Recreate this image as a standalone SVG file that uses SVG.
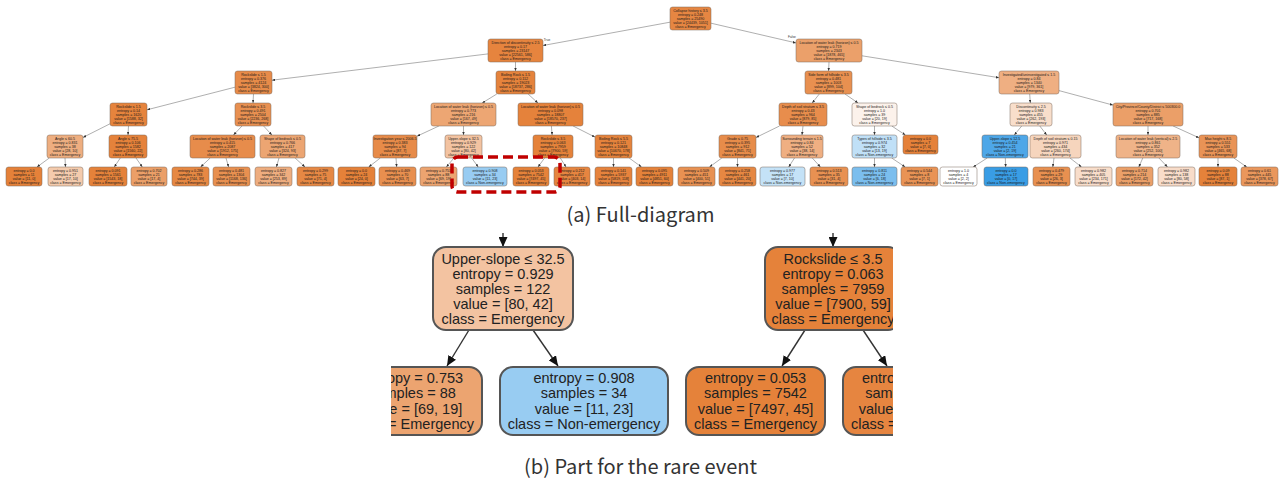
<svg xmlns="http://www.w3.org/2000/svg" width="1281" height="486" viewBox="0 0 1281 486">
<style>
.nd{stroke:#7a685c;stroke-width:0.5}
.t{font-family:"Liberation Sans",Arial,sans-serif;font-size:3.6px;fill:#1a1a1a;text-anchor:middle}
.e{stroke:#8c8c8c;stroke-width:0.7;fill:none;marker-end:url(#ah)}
.lbl{font-family:"Liberation Sans",Arial,sans-serif;font-size:3.2px;fill:#333;text-anchor:middle}
.pn{stroke:#555;stroke-width:2}
.pt{font-family:"Liberation Sans",Arial,sans-serif;font-size:14.5px;fill:#222;text-anchor:middle}
.pe{stroke:#333;stroke-width:1.4;fill:none;marker-end:url(#pa)}
.cap{font-family:"Noto Sans CJK KR","Noto Sans",sans-serif;font-size:20px;fill:#333;text-anchor:middle}
</style>
<defs>
<marker id="ah" markerUnits="userSpaceOnUse" markerWidth="3.2" markerHeight="2.6" refX="3.2" refY="1.3" orient="auto" viewBox="0 0 3.2 2.6"><path d="M0,0 L3.2,1.3 L0,2.6 Z" fill="#333"/></marker>
<marker id="pa" markerUnits="userSpaceOnUse" markerWidth="10" markerHeight="9" refX="10" refY="4.5" orient="auto" viewBox="0 0 10 9"><path d="M0,0 L10,4.5 L0,9 Z" fill="#111"/></marker>
<clipPath id="pc"><rect x="391" y="233" width="502" height="213"/></clipPath>
</defs>
<rect width="1281" height="486" fill="#fff"/>

<g id="connectors">
<line class="e" x1="670" y1="22.2" x2="543" y2="45.5"/>
<line class="e" x1="711" y1="23.2" x2="796" y2="42.9"/>
<line class="e" x1="488" y1="53.9" x2="272" y2="80.2"/>
<line class="e" x1="515.5" y1="62" x2="515.5" y2="71"/>
<line class="e" x1="829" y1="62" x2="828.6" y2="71"/>
<line class="e" x1="862" y1="55.8" x2="999" y2="77.7"/>
<line class="e" x1="235" y1="87.2" x2="147" y2="109.8"/>
<line class="e" x1="253.5" y1="94" x2="253" y2="103"/>
<line class="e" x1="496.8" y1="94" x2="482.2" y2="103"/>
<line class="e" x1="528.1" y1="94" x2="537.9" y2="103"/>
<line class="e" x1="819.3" y1="94" x2="812.2" y2="103"/>
<line class="e" x1="845" y1="94" x2="858" y2="103"/>
<line class="e" x1="1029.7" y1="94" x2="1030.3" y2="103"/>
<line class="e" x1="1059" y1="90.6" x2="1113" y2="105.1"/>
<line class="e" x1="110" y1="123.8" x2="83" y2="137.4"/>
<line class="e" x1="128.5" y1="126" x2="128" y2="135"/>
<line class="e" x1="242" y1="126" x2="233.5" y2="135"/>
<line class="e" x1="263.6" y1="126" x2="271.9" y2="135"/>
<line class="e" x1="438.9" y1="126" x2="417" y2="136.2"/>
<line class="e" x1="463.5" y1="126" x2="463.5" y2="135"/>
<line class="e" x1="551.4" y1="126" x2="552.1" y2="135"/>
<line class="e" x1="573.1" y1="126" x2="595" y2="137.1"/>
<line class="e" x1="779.5" y1="126" x2="756" y2="137.5"/>
<line class="e" x1="803" y1="126" x2="802" y2="135"/>
<line class="e" x1="874.5" y1="126" x2="874.5" y2="135"/>
<line class="e" x1="891.8" y1="126" x2="905.4" y2="135"/>
<line class="e" x1="1021.7" y1="126" x2="1014.3" y2="135"/>
<line class="e" x1="1039.8" y1="126" x2="1046.7" y2="135"/>
<line class="e" x1="1148" y1="126" x2="1148" y2="135"/>
<line class="e" x1="1173.1" y1="126" x2="1199" y2="137.8"/>
<line class="e" x1="49.3" y1="158" x2="37" y2="167"/>
<line class="e" x1="65" y1="158" x2="65.5" y2="167"/>
<line class="e" x1="120.3" y1="158" x2="114.3" y2="167"/>
<line class="e" x1="136" y1="158" x2="142.3" y2="167"/>
<line class="e" x1="210.2" y1="158" x2="200.6" y2="167"/>
<line class="e" x1="226" y1="158" x2="228.6" y2="167"/>
<line class="e" x1="279" y1="158" x2="276.4" y2="167"/>
<line class="e" x1="295.1" y1="158" x2="305" y2="167"/>
<line class="e" x1="380.3" y1="158" x2="368.7" y2="167"/>
<line class="e" x1="396" y1="158" x2="396.7" y2="167"/>
<line class="e" x1="453.9" y1="158" x2="446.4" y2="167"/>
<line class="e" x1="471.7" y1="158" x2="478.2" y2="167"/>
<line class="e" x1="544.6" y1="158" x2="538" y2="167"/>
<line class="e" x1="560.3" y1="158" x2="566" y2="167"/>
<line class="e" x1="613.5" y1="158" x2="613.5" y2="167"/>
<line class="e" x1="629.2" y1="158" x2="641.5" y2="167"/>
<line class="e" x1="721.8" y1="158" x2="709.5" y2="167"/>
<line class="e" x1="737.5" y1="158" x2="737.5" y2="167"/>
<line class="e" x1="794.5" y1="158" x2="788.7" y2="167"/>
<line class="e" x1="812.3" y1="158" x2="820.4" y2="167"/>
<line class="e" x1="874.5" y1="158" x2="874.5" y2="167"/>
<line class="e" x1="891.7" y1="158" x2="905.2" y2="167"/>
<line class="e" x1="987.2" y1="158" x2="973.2" y2="167"/>
<line class="e" x1="1005.3" y1="158" x2="1005.7" y2="167"/>
<line class="e" x1="1054" y1="158" x2="1052.8" y2="167"/>
<line class="e" x1="1070" y1="158" x2="1081.5" y2="167"/>
<line class="e" x1="1142.8" y1="158" x2="1138.8" y2="167"/>
<line class="e" x1="1158.9" y1="158" x2="1167.5" y2="167"/>
<line class="e" x1="1218" y1="158" x2="1218" y2="167"/>
<line class="e" x1="1233.9" y1="158" x2="1246.7" y2="167"/>
<text class="lbl" x="547" y="41">True</text>
<text class="lbl" x="792" y="38">False</text>
</g>

<g id="n0"><rect class="nd" x="670" y="7" width="41" height="23" rx="2.5" fill="#e68642"/><text class="t" y="11.5"><tspan x="690.5">Collapse history ≤ 3.5</tspan><tspan x="690.5" dy="4.15">entropy = 0.248</tspan><tspan x="690.5" dy="4.15">samples = 25490</tspan><tspan x="690.5" dy="4.15">value = [24439, 1051]</tspan><tspan x="690.5" dy="4.15">class = Emergency</tspan></text></g>
<g id="n1"><rect class="nd" x="488" y="39" width="55" height="23" rx="2.5" fill="#e6843e"/><text class="t" y="43.5"><tspan x="515.5">Direction of discontinuity ≤ 2.5</tspan><tspan x="515.5" dy="4.15">entropy = 0.17</tspan><tspan x="515.5" dy="4.15">samples = 23147</tspan><tspan x="515.5" dy="4.15">value = [22561, 586]</tspan><tspan x="515.5" dy="4.15">class = Emergency</tspan></text></g>
<g id="n2"><rect class="nd" x="796" y="39" width="66" height="23" rx="2.5" fill="#eba06a"/><text class="t" y="43.5"><tspan x="829">Location of water leak (horizon) ≤ 0.5</tspan><tspan x="829" dy="4.15">entropy = 0.719</tspan><tspan x="829" dy="4.15">samples = 2343</tspan><tspan x="829" dy="4.15">value = [1878, 465]</tspan><tspan x="829" dy="4.15">class = Emergency</tspan></text></g>
<g id="n3"><rect class="nd" x="235" y="71" width="37" height="23" rx="2.5" fill="#e78b49"/><text class="t" y="75.5"><tspan x="253.5">Rockslide ≤ 1.5</tspan><tspan x="253.5" dy="4.15">entropy = 0.376</tspan><tspan x="253.5" dy="4.15">samples = 4124</tspan><tspan x="253.5" dy="4.15">value = [3824, 300]</tspan><tspan x="253.5" dy="4.15">class = Emergency</tspan></text></g>
<g id="n4"><rect class="nd" x="496" y="71" width="39" height="23" rx="2.5" fill="#e5833c"/><text class="t" y="75.5"><tspan x="515.5">Boiling Rock ≤ 1.5</tspan><tspan x="515.5" dy="4.15">entropy = 0.112</tspan><tspan x="515.5" dy="4.15">samples = 19023</tspan><tspan x="515.5" dy="4.15">value = [18737, 286]</tspan><tspan x="515.5" dy="4.15">class = Emergency</tspan></text></g>
<g id="n5"><rect class="nd" x="805" y="71" width="47" height="23" rx="2.5" fill="#e89050"/><text class="t" y="75.5"><tspan x="828.5">Side form of hillside ≤ 3.5</tspan><tspan x="828.5" dy="4.15">entropy = 0.481</tspan><tspan x="828.5" dy="4.15">samples = 1003</tspan><tspan x="828.5" dy="4.15">value = [899, 104]</tspan><tspan x="828.5" dy="4.15">class = Emergency</tspan></text></g>
<g id="n6"><rect class="nd" x="999" y="71" width="60" height="23" rx="2.5" fill="#efaf82"/><text class="t" y="75.5"><tspan x="1029">Investigated/uninvestigated ≤ 1.5</tspan><tspan x="1029" dy="4.15">entropy = 0.84</tspan><tspan x="1029" dy="4.15">samples = 1340</tspan><tspan x="1029" dy="4.15">value = [979, 361]</tspan><tspan x="1029" dy="4.15">class = Emergency</tspan></text></g>

<g id="n7"><rect class="nd" x="110" y="103" width="37" height="23" rx="2.5" fill="#e6843d"/><text class="t" y="107.5"><tspan x="128.5">Rockslide ≤ 1.5</tspan><tspan x="128.5" dy="4.15">entropy = 0.14</tspan><tspan x="128.5" dy="4.15">samples = 1620</tspan><tspan x="128.5" dy="4.15">value = [1588, 32]</tspan><tspan x="128.5" dy="4.15">class = Emergency</tspan></text></g>
<g id="n8"><rect class="nd" x="235" y="103" width="36" height="23" rx="2.5" fill="#e89051"/><text class="t" y="107.5"><tspan x="253">Rockslide ≤ 3.5</tspan><tspan x="253" dy="4.15">entropy = 0.491</tspan><tspan x="253" dy="4.15">samples = 2504</tspan><tspan x="253" dy="4.15">value = [2236, 268]</tspan><tspan x="253" dy="4.15">class = Emergency</tspan></text></g>
<g id="n9"><rect class="nd" x="431" y="103" width="65" height="23" rx="2.5" fill="#eda673"/><text class="t" y="107.5"><tspan x="463.5">Location of water leak (horizon) ≤ 0.5</tspan><tspan x="463.5" dy="4.15">entropy = 0.773</tspan><tspan x="463.5" dy="4.15">samples = 216</tspan><tspan x="463.5" dy="4.15">value = [167, 49]</tspan><tspan x="463.5" dy="4.15">class = Emergency</tspan></text></g>
<g id="n10"><rect class="nd" x="518" y="103" width="65" height="23" rx="2.5" fill="#e5823b"/><text class="t" y="107.5"><tspan x="550.5">Location of water leak (horizon) ≤ 0.5</tspan><tspan x="550.5" dy="4.15">entropy = 0.098</tspan><tspan x="550.5" dy="4.15">samples = 18807</tspan><tspan x="550.5" dy="4.15">value = [18570, 237]</tspan><tspan x="550.5" dy="4.15">class = Emergency</tspan></text></g>
<g id="n11"><rect class="nd" x="779" y="103" width="48" height="23" rx="2.5" fill="#e88d4c"/><text class="t" y="107.5"><tspan x="803">Depth of soil stratum ≤ 3.5</tspan><tspan x="803" dy="4.15">entropy = 0.43</tspan><tspan x="803" dy="4.15">samples = 964</tspan><tspan x="803" dy="4.15">value = [879, 85]</tspan><tspan x="803" dy="4.15">class = Emergency</tspan></text></g>
<g id="n12"><rect class="nd" x="852" y="103" width="45" height="23" rx="2.5" fill="#fcf2eb"/><text class="t" y="107.5"><tspan x="874.5">Shape of bedrock ≤ 0.5</tspan><tspan x="874.5" dy="4.15">entropy = 1.0</tspan><tspan x="874.5" dy="4.15">samples = 39</tspan><tspan x="874.5" dy="4.15">value = [20, 19]</tspan><tspan x="874.5" dy="4.15">class = Emergency</tspan></text></g>
<g id="n13"><rect class="nd" x="1010" y="103" width="42" height="23" rx="2.5" fill="#f8decb"/><text class="t" y="107.5"><tspan x="1031">Discontinuity ≤ 2.5</tspan><tspan x="1031" dy="4.15">entropy = 0.983</tspan><tspan x="1031" dy="4.15">samples = 455</tspan><tspan x="1031" dy="4.15">value = [262, 193]</tspan><tspan x="1031" dy="4.15">class = Emergency</tspan></text></g>
<g id="n14"><rect class="nd" x="1113" y="103" width="70" height="23" rx="2.5" fill="#eb9f68"/><text class="t" y="107.5"><tspan x="1148">City/Province/County/District ≤ 500300.0</tspan><tspan x="1148" dy="4.15">entropy = 0.701</tspan><tspan x="1148" dy="4.15">samples = 885</tspan><tspan x="1148" dy="4.15">value = [717, 168]</tspan><tspan x="1148" dy="4.15">class = Emergency</tspan></text></g>

<g id="n15"><rect class="nd" x="47" y="135" width="36" height="23" rx="2.5" fill="#eeae80"/><text class="t" y="139.5"><tspan x="65">Angle ≤ 60.5</tspan><tspan x="65" dy="4.15">entropy = 0.831</tspan><tspan x="65" dy="4.15">samples = 38</tspan><tspan x="65" dy="4.15">value = [28, 10]</tspan><tspan x="65" dy="4.15">class = Emergency</tspan></text></g>
<g id="n16"><rect class="nd" x="109" y="135" width="38" height="23" rx="2.5" fill="#e5823b"/><text class="t" y="139.5"><tspan x="128">Angle ≤ 75.5</tspan><tspan x="128" dy="4.15">entropy = 0.106</tspan><tspan x="128" dy="4.15">samples = 1582</tspan><tspan x="128" dy="4.15">value = [1560, 22]</tspan><tspan x="128" dy="4.15">class = Emergency</tspan></text></g>
<g id="n17"><rect class="nd" x="190" y="135" width="65" height="23" rx="2.5" fill="#e78c4b"/><text class="t" y="139.5"><tspan x="222.5">Location of water leak (horizon) ≤ 0.5</tspan><tspan x="222.5" dy="4.15">entropy = 0.415</tspan><tspan x="222.5" dy="4.15">samples = 2087</tspan><tspan x="222.5" dy="4.15">value = [1912, 175]</tspan><tspan x="222.5" dy="4.15">class = Emergency</tspan></text></g>
<g id="n18"><rect class="nd" x="260" y="135" width="45" height="23" rx="2.5" fill="#eca572"/><text class="t" y="139.5"><tspan x="282.5">Shape of bedrock ≤ 0.5</tspan><tspan x="282.5" dy="4.15">entropy = 0.766</tspan><tspan x="282.5" dy="4.15">samples = 417</tspan><tspan x="282.5" dy="4.15">value = [324, 93]</tspan><tspan x="282.5" dy="4.15">class = Emergency</tspan></text></g>
<g id="n19"><rect class="nd" x="373" y="135" width="44" height="23" rx="2.5" fill="#e78b49"/><text class="t" y="139.5"><tspan x="395">Investigation year ≤ 2006.5</tspan><tspan x="395" dy="4.15">entropy = 0.383</tspan><tspan x="395" dy="4.15">samples = 94</tspan><tspan x="395" dy="4.15">value = [87, 7]</tspan><tspan x="395" dy="4.15">class = Emergency</tspan></text></g>
<g id="n20"><rect class="nd" x="445" y="135" width="37" height="23" rx="2.5" fill="#f3c3a1"/><text class="t" y="139.5"><tspan x="463.5">Upper-slope ≤ 32.5</tspan><tspan x="463.5" dy="4.15">entropy = 0.929</tspan><tspan x="463.5" dy="4.15">samples = 122</tspan><tspan x="463.5" dy="4.15">value = [80, 42]</tspan><tspan x="463.5" dy="4.15">class = Emergency</tspan></text></g>
<g id="n21"><rect class="nd" x="533" y="135" width="40" height="23" rx="2.5" fill="#e5823a"/><text class="t" y="139.5"><tspan x="553">Rockslide ≤ 3.5</tspan><tspan x="553" dy="4.15">entropy = 0.063</tspan><tspan x="553" dy="4.15">samples = 7959</tspan><tspan x="553" dy="4.15">value = [7900, 59]</tspan><tspan x="553" dy="4.15">class = Emergency</tspan></text></g>
<g id="n22"><rect class="nd" x="595" y="135" width="37" height="23" rx="2.5" fill="#e5833c"/><text class="t" y="139.5"><tspan x="613.5">Boiling Rock ≤ 5.5</tspan><tspan x="613.5" dy="4.15">entropy = 0.121</tspan><tspan x="613.5" dy="4.15">samples = 10848</tspan><tspan x="613.5" dy="4.15">value = [10670, 178]</tspan><tspan x="613.5" dy="4.15">class = Emergency</tspan></text></g>
<g id="n23"><rect class="nd" x="719" y="135" width="37" height="23" rx="2.5" fill="#e78c4a"/><text class="t" y="139.5"><tspan x="737.5">Grade ≤ 0.75</tspan><tspan x="737.5" dy="4.15">entropy = 0.395</tspan><tspan x="737.5" dy="4.15">samples = 912</tspan><tspan x="737.5" dy="4.15">value = [841, 71]</tspan><tspan x="737.5" dy="4.15">class = Emergency</tspan></text></g>
<g id="n24"><rect class="nd" x="781" y="135" width="42" height="23" rx="2.5" fill="#efaf82"/><text class="t" y="139.5"><tspan x="802">Surrounding terrain ≤ 1.5</tspan><tspan x="802" dy="4.15">entropy = 0.84</tspan><tspan x="802" dy="4.15">samples = 52</tspan><tspan x="802" dy="4.15">value = [38, 14]</tspan><tspan x="802" dy="4.15">class = Emergency</tspan></text></g>
<g id="n25"><rect class="nd" x="852" y="135" width="45" height="23" rx="2.5" fill="#c0e0f7"/><text class="t" y="139.5"><tspan x="874.5">Types of hillside ≤ 3.5</tspan><tspan x="874.5" dy="4.15">entropy = 0.974</tspan><tspan x="874.5" dy="4.15">samples = 32</tspan><tspan x="874.5" dy="4.15">value = [13, 19]</tspan><tspan x="874.5" dy="4.15">class = Non-emergency</tspan></text></g>
<g id="n26"><rect class="nd" x="903" y="135" width="35" height="19" rx="2.5" fill="#e58139"/><text class="t" y="139.6"><tspan x="920.5">entropy = 0.0</tspan><tspan x="920.5" dy="4.15">samples = 7</tspan><tspan x="920.5" dy="4.15">value = [7, 0]</tspan><tspan x="920.5" dy="4.15">class = Emergency</tspan></text></g>
<g id="n27"><rect class="nd" x="982" y="135" width="46" height="23" rx="2.5" fill="#4ea7e8"/><text class="t" y="139.5"><tspan x="1005">Upper-slope ≤ 12.5</tspan><tspan x="1005" dy="4.15">entropy = 0.454</tspan><tspan x="1005" dy="4.15">samples = 21</tspan><tspan x="1005" dy="4.15">value = [2, 19]</tspan><tspan x="1005" dy="4.15">class = Non-emergency</tspan></text></g>
<g id="n28"><rect class="nd" x="1030" y="135" width="51" height="23" rx="2.5" fill="#f6d5bd"/><text class="t" y="139.5"><tspan x="1055.5">Depth of soil stratum ≤ 0.15</tspan><tspan x="1055.5" dy="4.15">entropy = 0.971</tspan><tspan x="1055.5" dy="4.15">samples = 434</tspan><tspan x="1055.5" dy="4.15">value = [260, 174]</tspan><tspan x="1055.5" dy="4.15">class = Emergency</tspan></text></g>
<g id="n29"><rect class="nd" x="1116" y="135" width="64" height="23" rx="2.5" fill="#efb388"/><text class="t" y="139.5"><tspan x="1148">Location of water leak (vertical) ≤ 2.5</tspan><tspan x="1148" dy="4.15">entropy = 0.861</tspan><tspan x="1148" dy="4.15">samples = 352</tspan><tspan x="1148" dy="4.15">value = [252, 100]</tspan><tspan x="1148" dy="4.15">class = Emergency</tspan></text></g>
<g id="n30"><rect class="nd" x="1199" y="135" width="38" height="23" rx="2.5" fill="#e99356"/><text class="t" y="139.5"><tspan x="1218">Max height ≤ 8.5</tspan><tspan x="1218" dy="4.15">entropy = 0.551</tspan><tspan x="1218" dy="4.15">samples = 533</tspan><tspan x="1218" dy="4.15">value = [465, 68]</tspan><tspan x="1218" dy="4.15">class = Emergency</tspan></text></g>

<g id="l1"><rect class="nd" x="6" y="167" width="36" height="19" rx="2.5" fill="#e58139"/><text class="t" y="171.6"><tspan x="24">entropy = 0.0</tspan><tspan x="24" dy="4.15">samples = 11</tspan><tspan x="24" dy="4.15">value = [11, 0]</tspan><tspan x="24" dy="4.15">class = Emergency</tspan></text></g>
<g id="l2"><rect class="nd" x="48" y="167" width="35" height="19" rx="2.5" fill="#f4cbad"/><text class="t" y="171.6"><tspan x="65.5">entropy = 0.951</tspan><tspan x="65.5" dy="4.15">samples = 27</tspan><tspan x="65.5" dy="4.15">value = [17, 10]</tspan><tspan x="65.5" dy="4.15">class = Emergency</tspan></text></g>
<g id="l3"><rect class="nd" x="89" y="167" width="38" height="19" rx="2.5" fill="#e5823a"/><text class="t" y="171.6"><tspan x="108">entropy = 0.091</tspan><tspan x="108" dy="4.15">samples = 1561</tspan><tspan x="108" dy="4.15">value = [1543, 18]</tspan><tspan x="108" dy="4.15">class = Emergency</tspan></text></g>
<g id="l4"><rect class="nd" x="131" y="167" width="36" height="19" rx="2.5" fill="#eb9f68"/><text class="t" y="171.6"><tspan x="149">entropy = 0.702</tspan><tspan x="149" dy="4.15">samples = 21</tspan><tspan x="149" dy="4.15">value = [17, 4]</tspan><tspan x="149" dy="4.15">class = Emergency</tspan></text></g>
<g id="l5"><rect class="nd" x="172" y="167" width="37" height="19" rx="2.5" fill="#e68843"/><text class="t" y="171.6"><tspan x="190.5">entropy = 0.286</tspan><tspan x="190.5" dy="4.15">samples = 783</tspan><tspan x="190.5" dy="4.15">value = [744, 39]</tspan><tspan x="190.5" dy="4.15">class = Emergency</tspan></text></g>
<g id="l6"><rect class="nd" x="213" y="167" width="37" height="19" rx="2.5" fill="#e89050"/><text class="t" y="171.6"><tspan x="231.5">entropy = 0.481</tspan><tspan x="231.5" dy="4.15">samples = 1304</tspan><tspan x="231.5" dy="4.15">value = [1168, 136]</tspan><tspan x="231.5" dy="4.15">class = Emergency</tspan></text></g>
<g id="l7"><rect class="nd" x="255" y="167" width="37" height="19" rx="2.5" fill="#eead7f"/><text class="t" y="171.6"><tspan x="273.5">entropy = 0.827</tspan><tspan x="273.5" dy="4.15">samples = 342</tspan><tspan x="273.5" dy="4.15">value = [253, 89]</tspan><tspan x="273.5" dy="4.15">class = Emergency</tspan></text></g>
<g id="l8"><rect class="nd" x="297" y="167" width="37" height="19" rx="2.5" fill="#e68844"/><text class="t" y="171.6"><tspan x="315.5">entropy = 0.299</tspan><tspan x="315.5" dy="4.15">samples = 75</tspan><tspan x="315.5" dy="4.15">value = [71, 4]</tspan><tspan x="315.5" dy="4.15">class = Emergency</tspan></text></g>
<g id="l9"><rect class="nd" x="338" y="167" width="37" height="19" rx="2.5" fill="#e58139"/><text class="t" y="171.6"><tspan x="356.5">entropy = 0.0</tspan><tspan x="356.5" dy="4.15">samples = 24</tspan><tspan x="356.5" dy="4.15">value = [24, 0]</tspan><tspan x="356.5" dy="4.15">class = Emergency</tspan></text></g>
<g id="l10"><rect class="nd" x="379" y="167" width="37" height="19" rx="2.5" fill="#e88f4f"/><text class="t" y="171.6"><tspan x="397.5">entropy = 0.469</tspan><tspan x="397.5" dy="4.15">samples = 70</tspan><tspan x="397.5" dy="4.15">value = [63, 7]</tspan><tspan x="397.5" dy="4.15">class = Emergency</tspan></text></g>
<g id="l11"><rect class="nd" x="420" y="167" width="37" height="19" rx="2.5" fill="#eca470"/><text class="t" y="171.6"><tspan x="438.5">entropy = 0.753</tspan><tspan x="438.5" dy="4.15">samples = 88</tspan><tspan x="438.5" dy="4.15">value = [69, 19]</tspan><tspan x="438.5" dy="4.15">class = Emergency</tspan></text></g>
<g id="l12"><rect class="nd" x="463" y="167" width="44" height="19" rx="2.5" fill="#98ccf2"/><text class="t" y="171.6"><tspan x="485">entropy = 0.908</tspan><tspan x="485" dy="4.15">samples = 34</tspan><tspan x="485" dy="4.15">value = [11, 23]</tspan><tspan x="485" dy="4.15">class = Non-emergency</tspan></text></g>
<g id="l13"><rect class="nd" x="513" y="167" width="36" height="19" rx="2.5" fill="#e5823a"/><text class="t" y="171.6"><tspan x="531">entropy = 0.053</tspan><tspan x="531" dy="4.15">samples = 7542</tspan><tspan x="531" dy="4.15">value = [7497, 45]</tspan><tspan x="531" dy="4.15">class = Emergency</tspan></text></g>
<g id="l14"><rect class="nd" x="554" y="167" width="36" height="19" rx="2.5" fill="#e68540"/><text class="t" y="171.6"><tspan x="572">entropy = 0.212</tspan><tspan x="572" dy="4.15">samples = 417</tspan><tspan x="572" dy="4.15">value = [403, 14]</tspan><tspan x="572" dy="4.15">class = Emergency</tspan></text></g>
<g id="l15"><rect class="nd" x="595" y="167" width="37" height="19" rx="2.5" fill="#e6833d"/><text class="t" y="171.6"><tspan x="613.5">entropy = 0.141</tspan><tspan x="613.5" dy="4.15">samples = 5937</tspan><tspan x="613.5" dy="4.15">value = [5819, 118]</tspan><tspan x="613.5" dy="4.15">class = Emergency</tspan></text></g>
<g id="l16"><rect class="nd" x="636" y="167" width="37" height="19" rx="2.5" fill="#e5823a"/><text class="t" y="171.6"><tspan x="654.5">entropy = 0.095</tspan><tspan x="654.5" dy="4.15">samples = 4911</tspan><tspan x="654.5" dy="4.15">value = [4851, 60]</tspan><tspan x="654.5" dy="4.15">class = Emergency</tspan></text></g>
<g id="l17"><rect class="nd" x="678" y="167" width="37" height="19" rx="2.5" fill="#e89152"/><text class="t" y="171.6"><tspan x="696.5">entropy = 0.509</tspan><tspan x="696.5" dy="4.15">samples = 451</tspan><tspan x="696.5" dy="4.15">value = [400, 51]</tspan><tspan x="696.5" dy="4.15">class = Emergency</tspan></text></g>
<g id="l18"><rect class="nd" x="719" y="167" width="37" height="19" rx="2.5" fill="#e68742"/><text class="t" y="171.6"><tspan x="737.5">entropy = 0.258</tspan><tspan x="737.5" dy="4.15">samples = 461</tspan><tspan x="737.5" dy="4.15">value = [441, 20]</tspan><tspan x="737.5" dy="4.15">class = Emergency</tspan></text></g>
<g id="l19"><rect class="nd" x="760" y="167" width="45" height="19" rx="2.5" fill="#c4e2f7"/><text class="t" y="171.6"><tspan x="782.5">entropy = 0.977</tspan><tspan x="782.5" dy="4.15">samples = 17</tspan><tspan x="782.5" dy="4.15">value = [7, 10]</tspan><tspan x="782.5" dy="4.15">class = Non-emergency</tspan></text></g>
<g id="l20"><rect class="nd" x="810" y="167" width="38" height="19" rx="2.5" fill="#e89152"/><text class="t" y="171.6"><tspan x="829">entropy = 0.513</tspan><tspan x="829" dy="4.15">samples = 35</tspan><tspan x="829" dy="4.15">value = [31, 4]</tspan><tspan x="829" dy="4.15">class = Emergency</tspan></text></g>
<g id="l21"><rect class="nd" x="852" y="167" width="45" height="19" rx="2.5" fill="#7bbeee"/><text class="t" y="171.6"><tspan x="874.5">entropy = 0.811</tspan><tspan x="874.5" dy="4.15">samples = 24</tspan><tspan x="874.5" dy="4.15">value = [6, 18]</tspan><tspan x="874.5" dy="4.15">class = Non-emergency</tspan></text></g>
<g id="l22"><rect class="nd" x="901" y="167" width="37" height="19" rx="2.5" fill="#e99355"/><text class="t" y="171.6"><tspan x="919.5">entropy = 0.544</tspan><tspan x="919.5" dy="4.15">samples = 8</tspan><tspan x="919.5" dy="4.15">value = [7, 1]</tspan><tspan x="919.5" dy="4.15">class = Emergency</tspan></text></g>
<g id="l23"><rect class="nd" x="940" y="167" width="37" height="19" rx="2.5" fill="#ffffff"/><text class="t" y="171.6"><tspan x="958.5">entropy = 1.0</tspan><tspan x="958.5" dy="4.15">samples = 4</tspan><tspan x="958.5" dy="4.15">value = [2, 2]</tspan><tspan x="958.5" dy="4.15">class = Emergency</tspan></text></g>
<g id="l24"><rect class="nd" x="984" y="167" width="44" height="19" rx="2.5" fill="#399de5"/><text class="t" y="171.6"><tspan x="1006">entropy = 0.0</tspan><tspan x="1006" dy="4.15">samples = 17</tspan><tspan x="1006" dy="4.15">value = [0, 17]</tspan><tspan x="1006" dy="4.15">class = Non-emergency</tspan></text></g>
<g id="l25"><rect class="nd" x="1033" y="167" width="37" height="19" rx="2.5" fill="#e89050"/><text class="t" y="171.6"><tspan x="1051.5">entropy = 0.479</tspan><tspan x="1051.5" dy="4.15">samples = 29</tspan><tspan x="1051.5" dy="4.15">value = [26, 3]</tspan><tspan x="1051.5" dy="4.15">class = Emergency</tspan></text></g>
<g id="l26"><rect class="nd" x="1075" y="167" width="37" height="19" rx="2.5" fill="#f8ddca"/><text class="t" y="171.6"><tspan x="1093.5">entropy = 0.982</tspan><tspan x="1093.5" dy="4.15">samples = 405</tspan><tspan x="1093.5" dy="4.15">value = [234, 171]</tspan><tspan x="1093.5" dy="4.15">class = Emergency</tspan></text></g>
<g id="l27"><rect class="nd" x="1116" y="167" width="37" height="19" rx="2.5" fill="#eba069"/><text class="t" y="171.6"><tspan x="1134.5">entropy = 0.714</tspan><tspan x="1134.5" dy="4.15">samples = 214</tspan><tspan x="1134.5" dy="4.15">value = [172, 42]</tspan><tspan x="1134.5" dy="4.15">class = Emergency</tspan></text></g>
<g id="l28"><rect class="nd" x="1158" y="167" width="37" height="19" rx="2.5" fill="#f8dcc9"/><text class="t" y="171.6"><tspan x="1176.5">entropy = 0.982</tspan><tspan x="1176.5" dy="4.15">samples = 138</tspan><tspan x="1176.5" dy="4.15">value = [80, 58]</tspan><tspan x="1176.5" dy="4.15">class = Emergency</tspan></text></g>
<g id="l29"><rect class="nd" x="1199" y="167" width="38" height="19" rx="2.5" fill="#e5823a"/><text class="t" y="171.6"><tspan x="1218">entropy = 0.09</tspan><tspan x="1218" dy="4.15">samples = 88</tspan><tspan x="1218" dy="4.15">value = [87, 1]</tspan><tspan x="1218" dy="4.15">class = Emergency</tspan></text></g>
<g id="l30"><rect class="nd" x="1241" y="167" width="37" height="19" rx="2.5" fill="#ea975c"/><text class="t" y="171.6"><tspan x="1259.5">entropy = 0.61</tspan><tspan x="1259.5" dy="4.15">samples = 445</tspan><tspan x="1259.5" dy="4.15">value = [378, 67]</tspan><tspan x="1259.5" dy="4.15">class = Emergency</tspan></text></g>

<rect id="highlight" x="452" y="157" width="108" height="35" rx="6" fill="none" stroke="#c00000" stroke-width="3.5" stroke-dasharray="10 5"/>

<text id="cap-a" class="cap" x="640.5" y="222">(a) Full-diagram</text>

<g id="panel-b" clip-path="url(#pc)">
<g id="panel-connectors">
<line class="pe" x1="503" y1="228" x2="503" y2="247"/>
<line class="pe" x1="469" y1="330" x2="447" y2="366"/>
<line class="pe" x1="533" y1="330" x2="558" y2="366"/>
<line class="pe" x1="833" y1="228" x2="833" y2="247"/>
<line class="pe" x1="805" y1="330" x2="782" y2="366"/>
<line class="pe" x1="863" y1="330" x2="887" y2="366"/>
</g>
<g id="p1"><rect class="pn" x="433" y="247" width="140" height="83" rx="13" fill="#f3c3a1"/><text class="pt" y="263.5"><tspan x="503">Upper-slope ≤ 32.5</tspan><tspan x="503" dy="15">entropy = 0.929</tspan><tspan x="503" dy="15">samples = 122</tspan><tspan x="503" dy="15">value = [80, 42]</tspan><tspan x="503" dy="15">class = Emergency</tspan></text></g>
<g id="p2"><rect class="pn" x="343" y="367" width="139" height="68" rx="13" fill="#eca470"/><text class="pt" y="382.5"><tspan x="412.5">entropy = 0.753</tspan><tspan x="412.5" dy="15.5">samples = 88</tspan><tspan x="412.5" dy="15.5">value = [69, 19]</tspan><tspan x="412.5" dy="15.5">class = Emergency</tspan></text></g>
<g id="p3"><rect class="pn" x="500" y="367" width="168" height="68" rx="13" fill="#98ccf2"/><text class="pt" y="382.5"><tspan x="584">entropy = 0.908</tspan><tspan x="584" dy="15.5">samples = 34</tspan><tspan x="584" dy="15.5">value = [11, 23]</tspan><tspan x="584" dy="15.5">class = Non-emergency</tspan></text></g>
<g id="p4"><rect class="pn" x="765" y="247" width="136" height="83" rx="13" fill="#e5823a"/><text class="pt" y="263.5"><tspan x="833">Rockslide ≤ 3.5</tspan><tspan x="833" dy="15">entropy = 0.063</tspan><tspan x="833" dy="15">samples = 7959</tspan><tspan x="833" dy="15">value = [7900, 59]</tspan><tspan x="833" dy="15">class = Emergency</tspan></text></g>
<g id="p5"><rect class="pn" x="686" y="367" width="139" height="68" rx="13" fill="#e5823a"/><text class="pt" y="382.5"><tspan x="755.5">entropy = 0.053</tspan><tspan x="755.5" dy="15.5">samples = 7542</tspan><tspan x="755.5" dy="15.5">value = [7497, 45]</tspan><tspan x="755.5" dy="15.5">class = Emergency</tspan></text></g>
<g id="p6"><rect class="pn" x="843" y="367" width="139" height="68" rx="13" fill="#e68540"/><text class="pt" y="382.5"><tspan x="912.5">entropy = 0.212</tspan><tspan x="912.5" dy="15.5">samples = 417</tspan><tspan x="912.5" dy="15.5">value = [403, 14]</tspan><tspan x="912.5" dy="15.5">class = Emergency</tspan></text></g>
</g>

<text id="cap-b" class="cap" x="640.5" y="474">(b) Part for the rare event</text>
</svg>
